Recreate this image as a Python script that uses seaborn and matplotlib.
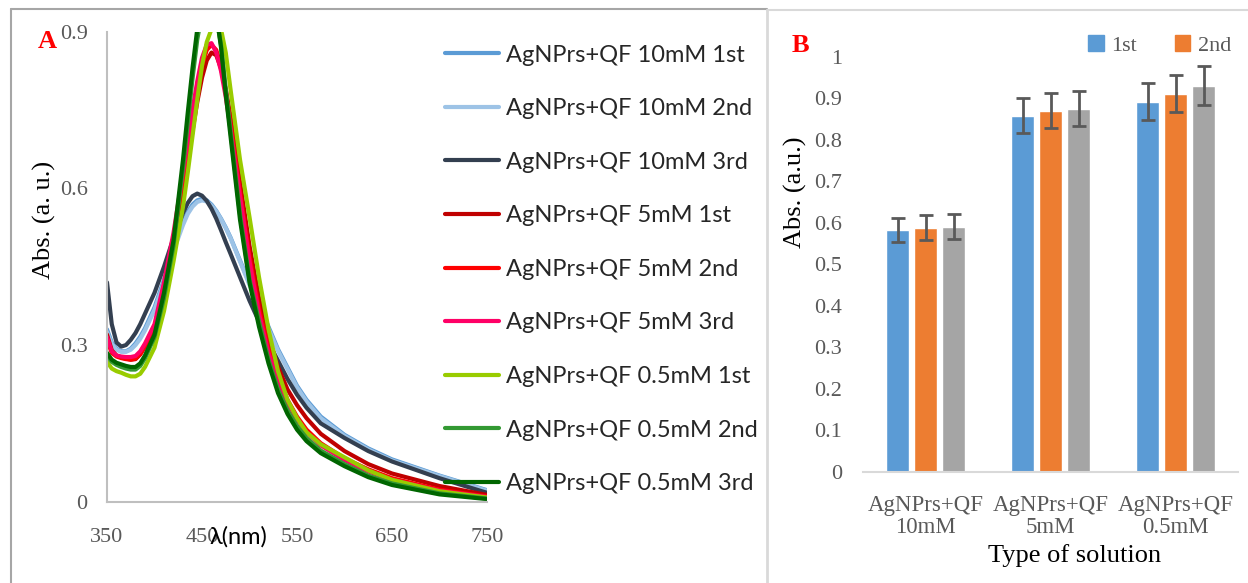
import pandas as pd
import matplotlib
matplotlib.use("Agg")
import matplotlib.pyplot as plt
import seaborn as sns
from matplotlib.patches import Patch
from matplotlib.lines import Line2D

# Panel A: UV-Vis spectra
wavelength = [350, 355, 360, 365, 370, 375, 380, 385, 390, 400, 410, 420, 430,
              435, 440, 445, 450, 455, 460, 465, 470, 475, 480,
              490, 500, 510, 520, 530, 540, 550, 560,
              575, 600, 625, 650, 700, 750]

abs_10mM_1st = [0.33, 0.305, 0.293, 0.288, 0.288, 0.293, 0.303, 0.316, 0.332, 0.372, 0.425, 0.485, 0.535,
                0.555, 0.569, 0.577, 0.58, 0.577, 0.569, 0.557, 0.542, 0.525, 0.506,
                0.462, 0.418, 0.378, 0.335, 0.292, 0.257, 0.222, 0.195,
                0.163, 0.128, 0.102, 0.081, 0.05, 0.022]
abs_10mM_2nd = [0.325, 0.302, 0.291, 0.287, 0.287, 0.291, 0.3, 0.312, 0.328, 0.367, 0.42, 0.48, 0.53,
                0.551, 0.565, 0.574, 0.577, 0.575, 0.567, 0.556, 0.541, 0.524, 0.505,
                0.46, 0.415, 0.374, 0.331, 0.289, 0.254, 0.219, 0.192,
                0.16, 0.126, 0.1, 0.079, 0.049, 0.021]
abs_10mM_3rd = [0.42, 0.34, 0.305, 0.297, 0.30, 0.31, 0.323, 0.34, 0.36, 0.40, 0.45, 0.505, 0.553,
                0.572, 0.585, 0.59, 0.586, 0.576, 0.561, 0.542, 0.52, 0.497, 0.475,
                0.43, 0.385, 0.345, 0.305, 0.27, 0.235, 0.205, 0.18,
                0.15, 0.122, 0.097, 0.077, 0.045, 0.017]
abs_5mM_1st = [0.32, 0.29, 0.28, 0.276, 0.274, 0.272, 0.273, 0.282, 0.297, 0.33, 0.405, 0.495, 0.60,
               0.655, 0.71, 0.765, 0.812, 0.845, 0.86, 0.855, 0.83, 0.79, 0.738,
               0.612, 0.49, 0.39, 0.315, 0.258, 0.215, 0.185, 0.16,
               0.13, 0.097, 0.072, 0.054, 0.03, 0.013]
abs_5mM_2nd = [0.31, 0.285, 0.278, 0.275, 0.273, 0.272, 0.274, 0.283, 0.298, 0.333, 0.41, 0.505, 0.615,
               0.675, 0.735, 0.79, 0.835, 0.865, 0.875, 0.865, 0.835, 0.785, 0.725,
               0.595, 0.47, 0.37, 0.295, 0.24, 0.195, 0.163, 0.138,
               0.112, 0.083, 0.062, 0.045, 0.023, 0.01]
abs_5mM_3rd = [0.315, 0.288, 0.28, 0.278, 0.277, 0.277, 0.279, 0.288, 0.303, 0.34, 0.42, 0.515, 0.63,
               0.69, 0.75, 0.805, 0.85, 0.875, 0.878, 0.86, 0.825, 0.775, 0.715,
               0.585, 0.46, 0.36, 0.285, 0.232, 0.19, 0.158, 0.133,
               0.108, 0.08, 0.058, 0.042, 0.021, 0.009]
abs_05mM_1st = [0.268, 0.255, 0.25, 0.247, 0.243, 0.24, 0.24, 0.245, 0.258, 0.295, 0.365, 0.46, 0.565,
                0.63, 0.70, 0.77, 0.835, 0.88, 0.905, 0.915, 0.905, 0.86, 0.79,
                0.655, 0.545, 0.43, 0.33, 0.25, 0.195, 0.16, 0.133,
                0.11, 0.085, 0.06, 0.042, 0.02, 0.008]
abs_05mM_2nd = [0.28, 0.268, 0.262, 0.258, 0.255, 0.253, 0.253, 0.26, 0.275, 0.315, 0.39, 0.49, 0.64,
                0.725, 0.81, 0.885, 0.935, 0.955, 0.955, 0.93, 0.875, 0.79, 0.71,
                0.55, 0.425, 0.345, 0.272, 0.215, 0.175, 0.145, 0.122,
                0.098, 0.072, 0.05, 0.035, 0.016, 0.006]
abs_05mM_3rd = [0.285, 0.272, 0.266, 0.263, 0.26, 0.258, 0.258, 0.265, 0.28, 0.32, 0.40, 0.50, 0.655,
                0.745, 0.83, 0.905, 0.95, 0.97, 0.965, 0.935, 0.87, 0.78, 0.70,
                0.54, 0.42, 0.335, 0.265, 0.208, 0.168, 0.138, 0.116,
                0.093, 0.068, 0.047, 0.032, 0.014, 0.005]

series_names = ["AgNPrs+QF 10mM 1st", "AgNPrs+QF 10mM 2nd", "AgNPrs+QF 10mM 3rd",
                "AgNPrs+QF 5mM 1st", "AgNPrs+QF 5mM 2nd", "AgNPrs+QF 5mM 3rd",
                "AgNPrs+QF 0.5mM 1st", "AgNPrs+QF 0.5mM 2nd", "AgNPrs+QF 0.5mM 3rd"]
series_values = [abs_10mM_1st, abs_10mM_2nd, abs_10mM_3rd,
                 abs_5mM_1st, abs_5mM_2nd, abs_5mM_3rd,
                 abs_05mM_1st, abs_05mM_2nd, abs_05mM_3rd]
series_colors = ["#5B9BD5", "#9DC3E6", "#333F50",
                 "#C00000", "#FF0000", "#FF0066",
                 "#99CC00", "#339933", "#006600"]

# Panel B: mean absorbance with error bars
solutions = ["AgNPrs+QF\n10mM", "AgNPrs+QF\n5mM", "AgNPrs+QF\n0.5mM"]
runs = ["1st", "2nd", "3rd"]
mean_1st = [0.583, 0.858, 0.892]
mean_2nd = [0.588, 0.870, 0.911]
mean_3rd = [0.590, 0.875, 0.930]
err_1st = [0.029, 0.043, 0.045]
err_2nd = [0.030, 0.043, 0.045]
err_3rd = [0.030, 0.043, 0.047]
bar_colors = ["#5B9BD5", "#ED7D31", "#A5A5A5"]

spec_df = pd.DataFrame({
    "wavelength": wavelength * len(series_names),
    "absorbance": [v for vals in series_values for v in vals],
    "series": [n for n in series_names for _ in wavelength],
})
bar_df = pd.DataFrame({
    "solution": solutions * 3,
    "run": [r for r in runs for _ in solutions],
    "abs": mean_1st + mean_2nd + mean_3rd,
})
bar_errs = [err_1st, err_2nd, err_3rd]

sns.set_style("white")
plt.rcParams["font.family"] = ["Liberation Serif", "DejaVu Serif"]
sans = ["Lato", "DejaVu Sans"]
grey_txt = "#595959"

W, H = 1248, 583
fig = plt.figure(figsize=(W / 100, H / 100), dpi=100)
ax1 = fig.add_axes([107 / W, 1 - 501.7 / H, 380 / W, 470 / H])
ax2 = fig.add_axes([863 / W, 1 - 471.7 / H, 375 / W, 415 / H])

# panel frames
fig.add_artist(Line2D([10.5 / W, 10.5 / W], [0, 1 - 9 / H], transform=fig.transFigure, color="#A6A6A6", lw=1.5))
fig.add_artist(Line2D([10.5 / W, 767 / W], [1 - 9 / H, 1 - 9 / H], transform=fig.transFigure, color="#A6A6A6", lw=1.5))
fig.add_artist(Line2D([767 / W, 767 / W], [0, 1 - 10 / H], transform=fig.transFigure, color="#D9D9D9", lw=2))
fig.add_artist(Line2D([767 / W, 1], [1 - 10 / H, 1 - 10 / H], transform=fig.transFigure, color="#D9D9D9", lw=1.5))

# ---- A: spectra
sns.lineplot(data=spec_df, x="wavelength", y="absorbance", hue="series",
             hue_order=series_names, palette=series_colors, linewidth=3,
             sort=False, estimator=None, errorbar=None, ax=ax1)
ax1.set_xlim(350, 750)
ax1.set_ylim(0, 0.9)
ax1.set_xticks([350, 450, 550, 650, 750])
ax1.set_yticks([0, 0.3, 0.6, 0.9])
ax1.set_yticklabels(["0", "0.3", "0.6", "0.9"])
ax1.tick_params(axis="both", length=0, labelsize=16, labelcolor=grey_txt)
ax1.tick_params(axis="y", pad=14)
ax1.tick_params(axis="x", pad=19)
for s in ["top", "right"]:
    ax1.spines[s].set_visible(False)
for s in ["left", "bottom"]:
    ax1.spines[s].set_color("#BFBFBF")
    ax1.spines[s].set_linewidth(1.5)
ax1.set_xlabel("λ(nm)", fontfamily=sans, fontsize=17, color="black")
ax1.xaxis.set_label_coords(0.345, -0.052)
ax1.set_ylabel("Abs. (a. u.)", fontsize=19, color="black")
ax1.yaxis.set_label_coords(-0.135, 0.6)
sns.move_legend(ax1, "upper left", bbox_to_anchor=(445 / W, 1 - 44.5 / H),
                bbox_transform=fig.transFigure, title=None, frameon=False,
                prop={"family": sans, "size": 17}, handlelength=2.3,
                handletextpad=0.3, labelspacing=1.38, borderpad=0, borderaxespad=0)
fig.text(38 / W, 1 - 41 / H, "A", color="#FF0000", fontweight="bold", fontsize=19, va="center")

# ---- B: bars
sns.barplot(data=bar_df, x="solution", y="abs", hue="run", hue_order=runs,
            palette=bar_colors, width=0.672, gap=0.21, saturation=1,
            errorbar=None, legend=False, ax=ax2)
for cont, errs in zip(ax2.containers, bar_errs):
    xs = [p.get_x() + p.get_width() / 2 for p in cont.patches]
    ys = [p.get_height() for p in cont.patches]
    ax2.errorbar(xs, ys, yerr=errs, fmt="none", ecolor="#595959",
                 elinewidth=2, capsize=5, capthick=2, zorder=5)
ax2.set_xlim(-0.5, 2.5)
ax2.set_ylim(0, 1)
yt = [i / 10 for i in range(11)]
ax2.set_yticks(yt)
ax2.set_yticklabels(["0", "0.1", "0.2", "0.3", "0.4", "0.5", "0.6", "0.7", "0.8", "0.9", "1"])
ax2.set_xticks([-0.5, 0.5, 1.5, 2.5], minor=True)
ax2.tick_params(axis="x", which="minor", length=6, width=1.5, color="#D9D9D9")
ax2.tick_params(axis="x", which="major", length=0, pad=17, labelsize=16.5, labelcolor=grey_txt)
ax2.tick_params(axis="y", length=0, pad=15, labelsize=16, labelcolor=grey_txt)
for lbl in ax2.get_xticklabels():
    lbl.set_linespacing(1.05)
for s in ["top", "right", "left"]:
    ax2.spines[s].set_visible(False)
ax2.spines["bottom"].set_color("#D9D9D9")
ax2.spines["bottom"].set_linewidth(1.5)
ax2.set_xlabel("Type of solution", fontsize=19, color="black")
ax2.xaxis.set_label_coords(0.565, -0.175)
ax2.set_ylabel("Abs. (a.u.)", fontsize=19, color="black")
ax2.yaxis.set_label_coords(-0.15, 0.674)
handles = [Patch(color=bar_colors[0], label="1st"), Patch(color=bar_colors[1], label="2nd")]
ax2.legend(handles=handles, ncol=2, loc="upper left", bbox_to_anchor=(1088 / W, 1 - 35 / H),
           bbox_transform=fig.transFigure, frameon=False, fontsize=16, labelcolor=grey_txt,
           handlelength=0.7, handleheight=0.7, handletextpad=0.35, columnspacing=1.7,
           borderpad=0, borderaxespad=0)
fig.text(792 / W, 1 - 46 / H, "B", color="#FF0000", fontweight="bold", fontsize=19, va="center")

fig.savefig("out.png", dpi=100)
